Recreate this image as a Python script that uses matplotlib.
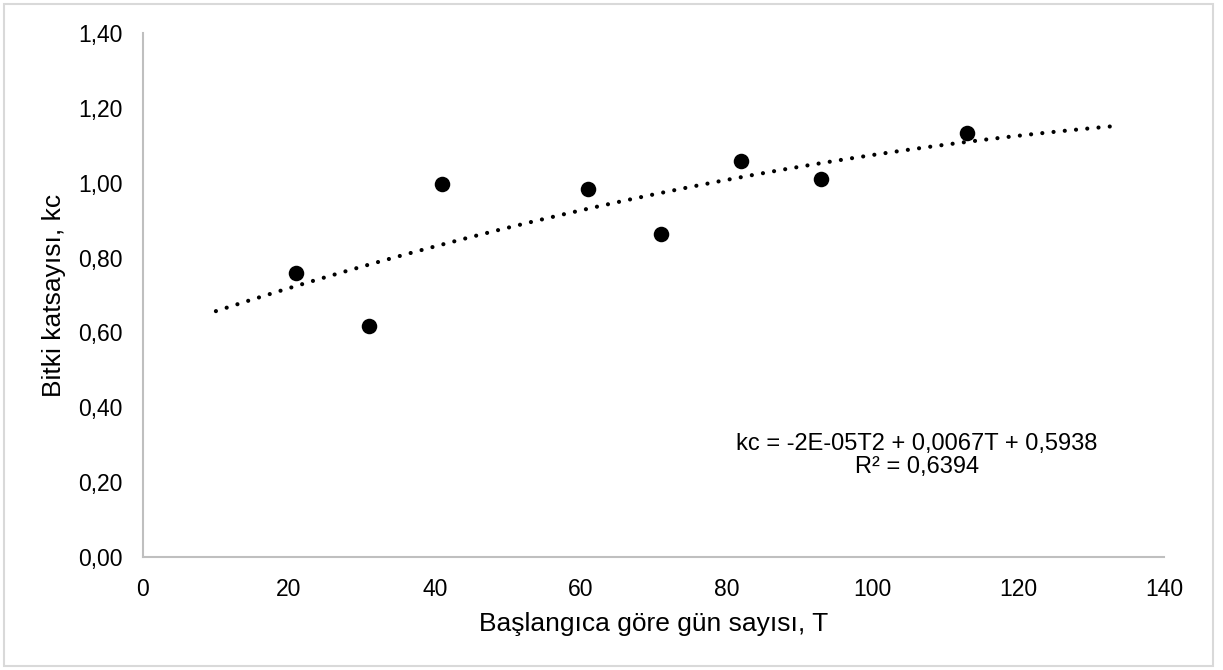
import numpy as np
import matplotlib
matplotlib.use("Agg")
import matplotlib.pyplot as plt
from matplotlib.ticker import FuncFormatter, MultipleLocator
from matplotlib.patches import Rectangle

plt.rcParams['font.family'] = ['Liberation Sans', 'DejaVu Sans']

# gün sayısı ve ölçülen bitki katsayısı
T = [21, 31, 41, 61, 71, 82, 93, 113]
kc = [0.758, 0.618, 0.996, 0.984, 0.863, 1.059, 1.009, 1.133]

trend_start = 10
trend_end = 133
equation = "kc = -2E-05T2 + 0,0067T + 0,5938"
r2_text = "R² = 0,6394"

fig = plt.figure(figsize=(12.23, 6.70), dpi=100)
ax = fig.add_axes([0.1169, 0.1687, 0.8349, 0.7820])

# ikinci derece polinom eğilim çizgisi
coef = np.polyfit(T, kc, 2)
tt = np.linspace(trend_start, trend_end, 200)
ax.plot(tt, np.polyval(coef, tt), color='black', lw=3.0,
        linestyle=(0, (0.01, 2.7)), dash_capstyle='round', zorder=2)

ax.scatter(T, kc, s=125, color='black', zorder=3, linewidths=0)

ax.set_xlim(0, 140)
ax.set_ylim(0, 1.40)
ax.xaxis.set_major_locator(MultipleLocator(20))
ax.yaxis.set_major_locator(MultipleLocator(0.20))
ax.yaxis.set_major_formatter(FuncFormatter(lambda v, p: f"{v:.2f}".replace('.', ',')))
ax.tick_params(length=0, labelsize=16.5, colors='black')
ax.tick_params(axis='x', pad=15)
ax.tick_params(axis='y', pad=14.5)

for s in ['top', 'right']:
    ax.spines[s].set_visible(False)
for s in ['left', 'bottom']:
    ax.spines[s].set_color('#BFBFBF')
    ax.spines[s].set_linewidth(1.5)

ax.set_xlabel("Başlangıca göre gün sayısı, T", fontsize=19, labelpad=8)
ax.set_ylabel("Bitki katsayısı, kc", fontsize=19, labelpad=9)

ax.text(0.758, 0.194, equation + "\n" + r2_text, transform=ax.transAxes,
        ha='center', va='center', fontsize=17, linespacing=1.05)

# dış çerçeve
fig.patches.append(Rectangle((4 / 1223, 4 / 670), 1209 / 1223, 662 / 670,
                             transform=fig.transFigure, fill=False,
                             edgecolor='#D9D9D9', lw=1.5))

fig.savefig("out.png", dpi=100)
